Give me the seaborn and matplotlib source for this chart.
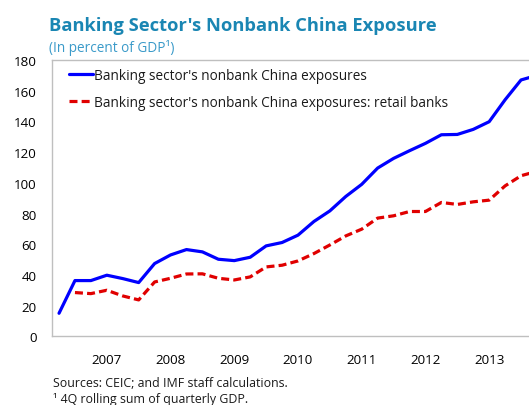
import numpy as np
import pandas as pd
import matplotlib
matplotlib.use("Agg")
import matplotlib.pyplot as plt
import seaborn as sns

# Quarterly observations, starting 2006 Q2
quarter_index = list(range(31))
nonbank_all = [15.0, 36.3, 36.3, 39.8, 37.6, 35.0, 47.4, 53.0, 56.5, 55.0,
               50.2, 49.3, 51.5, 58.9, 61.1, 65.9, 74.8, 81.7, 91.1, 99.0,
               109.6, 115.9, 120.9, 125.7, 131.3, 131.5, 134.8, 139.8, 154.1,
               167.0, 170.0]
nonbank_retail = [np.nan, 28.5, 27.8, 30.0, 26.3, 23.7, 35.4, 37.8, 40.6, 40.7,
                  37.8, 36.7, 38.7, 45.2, 46.3, 49.1, 53.9, 59.5, 65.4, 69.8,
                  77.0, 78.5, 81.3, 81.3, 87.2, 85.9, 87.6, 88.7, 98.0,
                  104.6, 107.5]
year_labels = ["2007", "2008", "2009", "2010", "2011", "2012", "2013"]
year_label_pos = [3, 7, 11, 15, 19, 23, 27]
y_ticks = list(range(0, 181, 20))

series_all = "Banking sector's nonbank China exposures"
series_retail = "Banking sector's nonbank China exposures: retail banks"

df = pd.DataFrame({"q": quarter_index, series_all: nonbank_all,
                   series_retail: nonbank_retail})

sns.set_theme(style="white")
plt.rcParams["font.family"] = ["Open Sans", "DejaVu Sans"]

fig = plt.figure(figsize=(5.29, 4.06), dpi=100)
ax = fig.add_axes([51.7 / 529, 1 - 337.3 / 406, 1 - 51.7 / 529, (337.3 - 61) / 406])

sns.lineplot(data=df, x="q", y=series_all, ax=ax, color="#0000FF",
             linewidth=2.3, label=series_all)
sns.lineplot(data=df, x="q", y=series_retail, ax=ax, color="#E00000",
             linewidth=2.3, label=series_retail, dashes=False)
ax.lines[1].set_dashes([2.5, 1.3])

ax.set_xlim(-0.46, 29.5)
ax.set_ylim(0, 180)
ax.set_yticks(y_ticks)
ax.set_xticks(year_label_pos)
ax.set_xticklabels(year_labels)
ax.set_xlabel("")
ax.set_ylabel("")
ax.tick_params(axis="both", length=0, labelsize=9.6, colors="#000000")
ax.tick_params(axis="x", pad=12)
ax.tick_params(axis="y", pad=11)

for side in ["left", "top", "bottom"]:
    ax.spines[side].set_color("#BFBFBF")
    ax.spines[side].set_linewidth(1.0)
ax.spines["right"].set_visible(False)

leg = ax.legend(loc="upper left", frameon=False, fontsize=9.8,
                handlelength=1.75, handletextpad=0.05, labelspacing=0.85,
                borderaxespad=0.2, bbox_to_anchor=(0.02, 1.0))
for t in leg.get_texts():
    t.set_color("#1A1A1A")

fig.text(49 / 529, 1 - 31 / 406, "Banking Sector's Nonbank China Exposure",
         fontsize=13.2, fontweight="bold", color="#1A86B3", ha="left",
         va="baseline")
fig.text(49 / 529, 1 - 52 / 406, "(In percent of GDP\u00b9)", fontsize=9.8,
         color="#3A9AC9", ha="left", va="baseline")
fig.text(53 / 529, 1 - 387 / 406, "Sources: CEIC; and IMF staff calculations.",
         fontsize=8.9, color="#1A1A1A", ha="left", va="baseline")
fig.text(53 / 529, 1 - 403 / 406, "\u00b9 4Q rolling sum of quarterly GDP.",
         fontsize=8.9, color="#1A1A1A", ha="left", va="baseline")

fig.savefig("out.png", dpi=100)
